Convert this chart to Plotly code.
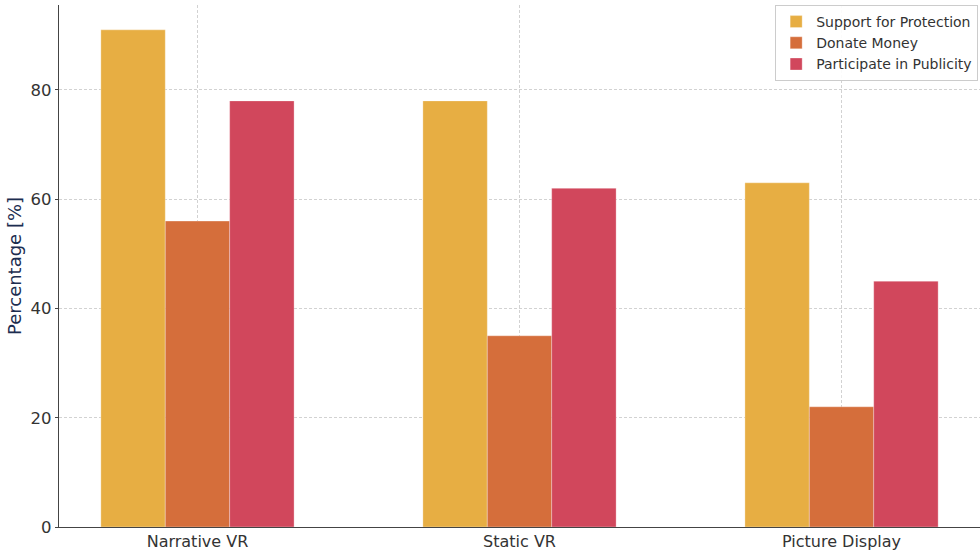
import plotly.graph_objects as go

categories = ["Narrative VR", "Static VR", "Picture Display"]
support = [91, 78, 63]
donate = [56, 35, 22]
publicity = [78, 62, 45]
series_names = ["Support for Protection", "Donate Money", "Participate in Publicity"]
colors = ["#E7AE43", "#D56E3B", "#D1475C"]

fig = go.Figure()
for name, vals, c in zip(series_names, [support, donate, publicity], colors):
    fig.add_trace(go.Bar(x=list(range(len(categories))), y=vals, name=name,
                         marker=dict(color=c, line=dict(color="rgba(255,255,255,0.5)", width=0.6))))

fig.update_layout(
    width=980, height=551,
    margin=dict(l=59, r=0, t=5, b=24, autoexpand=False),
    paper_bgcolor="white", plot_bgcolor="white",
    barmode="group", bargap=0.4, bargroupgap=0,
    font=dict(family="DejaVu Sans", size=16, color="#333333"),
    legend=dict(x=0.998, xanchor="right", y=1.0, yanchor="top",
                bordercolor="#cccccc", borderwidth=1, bgcolor="rgba(255,255,255,0.9)",
                font=dict(size=14, color="#333333"), tracegroupgap=0,
                itemwidth=30),
)
fig.update_xaxes(
    range=[-0.43, 2.43], tickmode="array", tickvals=list(range(len(categories))), ticktext=categories,
    showline=True, linecolor="#444444", linewidth=1.3, ticks="", ticklen=0,
    showgrid=True, gridcolor="#d2d2d2", griddash="3px,2px", gridwidth=1, zeroline=False,
    tickfont=dict(size=16, color="#333333"), automargin=False,
)
fig.update_yaxes(
    range=[0, 95.55], tickvals=[0, 20, 40, 60, 80],
    showline=True, linecolor="#444444", linewidth=1.3, ticks="outside", ticklen=3, tickcolor="#444444",
    showgrid=True, gridcolor="#d2d2d2", griddash="3px,2px", gridwidth=1, zeroline=False,
    tickfont=dict(size=16.5, color="#333333"), automargin=False,
    title=dict(text="Percentage [%]", font=dict(size=18, color="#1c2d50"), standoff=4),
)
fig.write_html("out.html")
